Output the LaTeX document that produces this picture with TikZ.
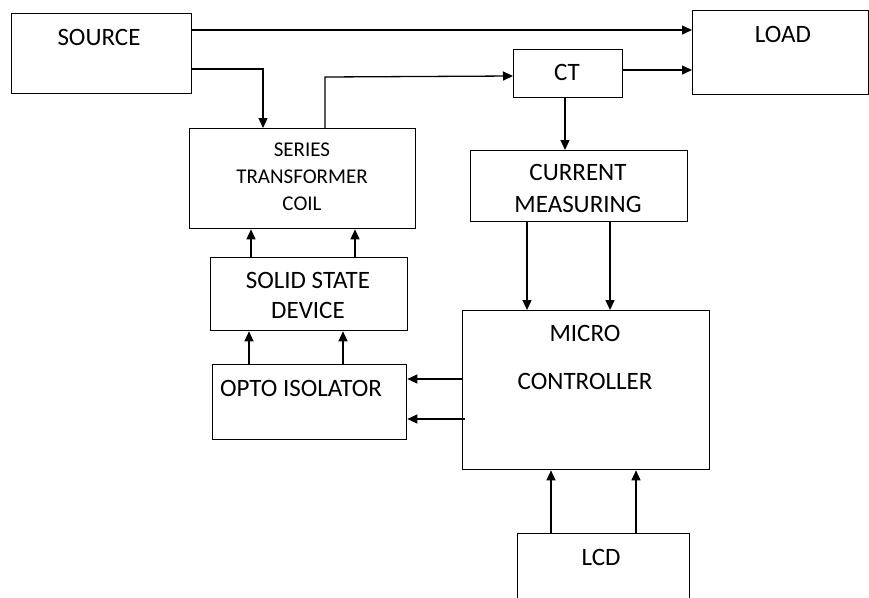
\documentclass[tikz,border=0pt]{standalone}
\usepackage{fontspec}
\setmainfont{Carlito}
\usetikzlibrary{arrows.meta}
\begin{document}
\begin{tikzpicture}[x=1pt,y=-1pt,
  box/.style={draw,line width=1.3pt,anchor=north west,inner sep=0pt},
  txt/.style={font=\fontsize{25}{30}\selectfont,inner sep=0pt,align=center},
  stxt/.style={font=\fontsize{21}{27}\selectfont,inner sep=0pt,align=center},
  arr/.style={line width=1.3pt,-{Triangle[length=10pt,width=9pt]}},
  ln/.style={line width=1.3pt}]
\clip (0,0) rectangle (869,597);
\fill[white] (0,0) rectangle (869,597);
% boxes
\node[box,minimum width=180pt,minimum height=80pt] (src) at (11,13) {};
\node[box,minimum width=176pt,minimum height=84pt] (load) at (692,10) {};
\node[box,minimum width=109pt,minimum height=48pt] (ct) at (513,49) {};
\node[box,minimum width=217pt,minimum height=71pt] (cm) at (470,150) {};
\node[box,minimum width=226pt,minimum height=100pt] (ser) at (189,128) {};
\node[box,minimum width=197pt,minimum height=73pt] (ssd) at (210,257) {};
\node[box,minimum width=194pt,minimum height=75pt] (opto) at (212,364) {};
\node[box,minimum width=247pt,minimum height=159pt] (mc) at (462,310) {};
\node[box,minimum width=172pt,minimum height=80pt] (lcd) at (517,533) {};
% texts
\node[txt] (tsrc) at (99,37) {SOURCE};
\node[txt] (tload) at (783,34) {LOAD};
\node[txt] (tct) at (567,72) {CT};
\node[txt] (tcm) at (578,188) {CURRENT\\[2pt]MEASURING};
\node[stxt] (tser) at (302,177) {SERIES\\TRANSFORMER\\COIL};
\node[txt] (tssd) at (308,295) {SOLID STATE\\DEVICE};
\node[txt] (topto) at (301,388) {OPTO ISOLATOR};
\node[txt] (tmc) at (585,357) {MICRO\\[18pt]CONTROLLER};
\node[txt] (tlcd) at (601,557) {LCD};
% connectors
\draw[arr] (src.east |- 0,30) -- (load.west |- 0,30);
\draw[arr] (src.east |- 0,69) -- (263,69) -- (ser.north -| 263,0);
\draw[arr] (ser.north -| 325,0) -- (325,77) -- (ct.west |- 0,76);
\draw[arr] (ct.east |- 0,70) -- (load.west |- 0,70);
\draw[arr] (ct.south -| 565,0) -- (cm.north -| 565,0);
\draw[arr] (cm.south -| 527,0) -- (mc.north -| 527,0);
\draw[arr] (cm.south -| 610,0) -- (mc.north -| 610,0);
\draw[arr] (mc.west |- 0,379) -- (opto.east |- 0,379);
\draw[arr] ([xshift=3pt]mc.west |- 0,419) -- (opto.east |- 0,419);
\draw[arr] (opto.north -| 249,0) -- (ssd.south -| 249,0);
\draw[arr] (opto.north -| 343,0) -- (ssd.south -| 343,0);
\draw[arr] (ssd.north -| 251,0) -- (ser.south -| 251,0);
\draw[arr] (ssd.north -| 355,0) -- (ser.south -| 355,0);
\draw[arr] (lcd.north -| 551,0) -- (mc.south -| 551,0);
\draw[arr] (lcd.north -| 636,0) -- (mc.south -| 636,0);
\end{tikzpicture}
\end{document}
